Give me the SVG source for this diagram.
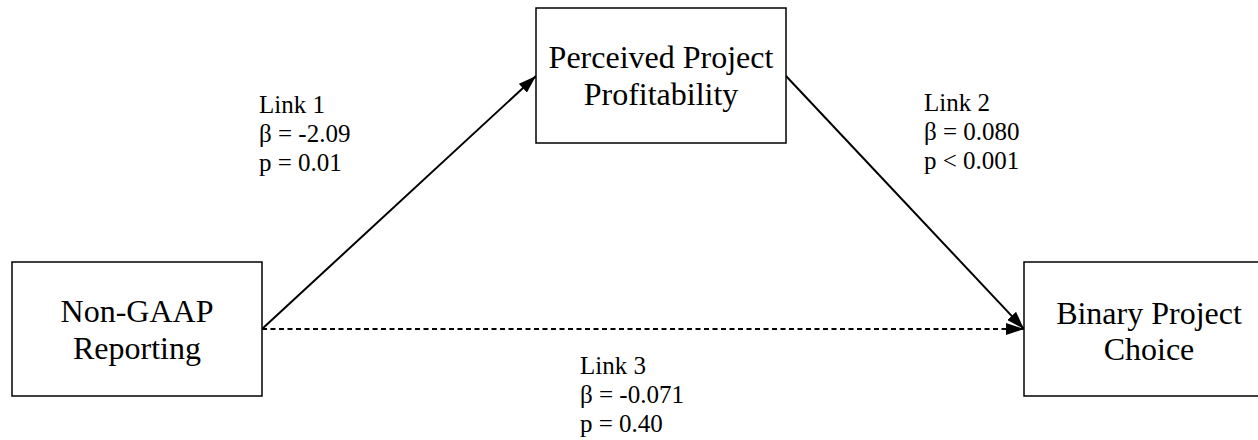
<svg xmlns="http://www.w3.org/2000/svg" width="1258" height="440" viewBox="0 0 1258 440">
  <style>
    .box { fill: #ffffff; stroke: #000000; stroke-width: 1.5; }
    .node-text { font-family: "Liberation Serif", "Times New Roman", serif; font-size: 32px; fill: #000000; text-anchor: middle; }
    .label { font-family: "Liberation Serif", "Times New Roman", serif; font-size: 25px; fill: #000000; }
    .link { fill: none; stroke: #000000; stroke-width: 2; }
    .dashed { stroke-dasharray: 5 3.5; }
  </style>
  <defs>
    <marker id="arrow" viewBox="0 0 18 12" refX="18" refY="6" markerWidth="18" markerHeight="12" markerUnits="userSpaceOnUse" orient="auto">
      <path d="M0,0 L18,6 L0,12 Z" fill="#000000"/>
    </marker>
  </defs>

  <rect width="1258" height="440" fill="#ffffff"/>

  <!-- connectors -->
  <g id="connectors">
    <line id="link1" class="link" x1="262" y1="329" x2="536" y2="76" marker-end="url(#arrow)"/>
    <line id="link2" class="link" x1="786" y1="76" x2="1024" y2="329" marker-end="url(#arrow)"/>
    <line id="link3" class="link dashed" x1="262" y1="329" x2="1024" y2="329" marker-end="url(#arrow)"/>
  </g>

  <!-- nodes -->
  <g id="node-nongaap">
    <rect class="box" x="12" y="262" width="250" height="134"/>
    <text class="node-text" x="137" y="322">Non-GAAP</text>
    <text class="node-text" x="137" y="359">Reporting</text>
  </g>

  <g id="node-profitability">
    <rect class="box" x="536" y="8" width="250" height="135"/>
    <text class="node-text" x="661" y="68">Perceived Project</text>
    <text class="node-text" x="661" y="105">Profitability</text>
  </g>

  <g id="node-choice">
    <rect class="box" x="1024" y="262" width="250" height="134"/>
    <text class="node-text" x="1149" y="324">Binary Project</text>
    <text class="node-text" x="1149" y="360">Choice</text>
  </g>

  <!-- path coefficients -->
  <g id="label-link1" class="label">
    <text x="259" y="113">Link 1</text>
    <text x="259" y="142">β = -2.09</text>
    <text x="259" y="171">p = 0.01</text>
  </g>
  <g id="label-link2" class="label">
    <text x="924" y="111">Link 2</text>
    <text x="924" y="140">β = 0.080</text>
    <text x="924" y="169">p &lt; 0.001</text>
  </g>
  <g id="label-link3" class="label">
    <text x="580" y="374">Link 3</text>
    <text x="580" y="403">β = -0.071</text>
    <text x="580" y="432">p = 0.40</text>
  </g>
</svg>
